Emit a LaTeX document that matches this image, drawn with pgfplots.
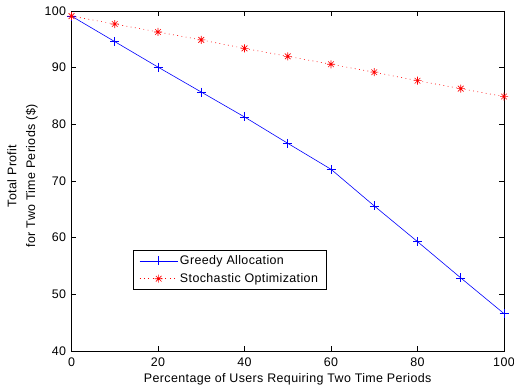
\documentclass[border=0pt]{standalone}
\usepackage{pgfplots}
\pgfplotsset{compat=1.18}
\usepackage{fontspec}
\setmainfont{Liberation Sans}[LetterSpace=3]
\pgfdeclareplotmark{mstar}{%
 \pgfpathmoveto{\pgfqpoint{-\pgfplotmarksize}{0pt}}\pgfpathlineto{\pgfqpoint{\pgfplotmarksize}{0pt}}%
 \pgfpathmoveto{\pgfqpoint{0pt}{-\pgfplotmarksize}}\pgfpathlineto{\pgfqpoint{0pt}{\pgfplotmarksize}}%
 \pgfpathmoveto{\pgfqpoint{-0.707\pgfplotmarksize}{-0.707\pgfplotmarksize}}\pgfpathlineto{\pgfqpoint{0.707\pgfplotmarksize}{0.707\pgfplotmarksize}}%
 \pgfpathmoveto{\pgfqpoint{-0.707\pgfplotmarksize}{0.707\pgfplotmarksize}}\pgfpathlineto{\pgfqpoint{0.707\pgfplotmarksize}{-0.707\pgfplotmarksize}}%
 \pgfusepathqstroke}
\begin{document}
\fontsize{12.5}{19}\selectfont
\begin{tikzpicture}
\useasboundingbox (-71.5bp,-38bp) rectangle (442.5bp,351bp);
\begin{axis}[
  at={(0,0)}, anchor=south west,
  scale only axis,
  width=432.5bp, height=340bp,
  xmin=0, xmax=100, ymin=40, ymax=100,
  xtick={0,20,...,100}, ytick={40,50,...,100},
  tick align=inside,
  major tick length=5bp,
  tick style={black, line width=0.5pt},
  axis line style={black, line width=0.8pt},
  /pgf/number format/assume math mode=true,
  ticklabel style={font=\fontsize{12.5}{15}\selectfont},
  xticklabel style={yshift=-2bp},
  yticklabel style={xshift=-1bp},
  label style={font=\fontsize{12.5}{19}\selectfont},
  xlabel={Percentage of Users Requiring Two Time Periods},
  xlabel style={at={(axis description cs:0.5,-0.082)}, anchor=center},
  ylabel={Total Profit\\for Two Time Periods (\$)},
  ylabel style={align=center, at={(axis description cs:-0.1133,0.515)}, anchor=center},
  legend style={at={(rel axis cs:0.1422,0.2971)}, anchor=north west, draw=black, line width=0.8pt,
    font=\fontsize{12.5}{15}\selectfont, inner xsep=6bp, inner ysep=3bp,
    nodes={inner sep=2bp}, row sep=3bp,
    /tikz/every even column/.append style={column sep=3bp}},
  legend cell align=left,
  legend image code/.code={\draw[mark repeat=2,mark phase=2,#1] plot coordinates {(0bp,0bp) (19bp,0bp) (38bp,0bp)};},
]
\addplot[color={rgb,255:red,0;green,0;blue,255}, line width=0.6pt, mark=+, mark size=4.5bp, mark options={solid}] coordinates {
(0,99.1) (10,94.6) (20,90.1) (30,85.7) (40,81.3) (50,76.65) (60,72.07) (70,65.6) (80,59.3) (90,52.9) (100,46.6)
};
\addlegendentry{Greedy Allocation}
\addplot[color={rgb,255:red,255;green,0;blue,0}, line width=0.6pt, dash pattern=on 0.8bp off 3.5bp, mark=mstar, mark size=4bp, mark options={solid}] coordinates {
(0,99.1) (10,97.7) (20,96.3) (30,94.9) (40,93.4) (50,92.0) (60,90.6) (70,89.2) (80,87.7) (90,86.3) (100,84.9)
};
\addlegendentry{Stochastic Optimization}
\end{axis}
\end{tikzpicture}
\end{document}
